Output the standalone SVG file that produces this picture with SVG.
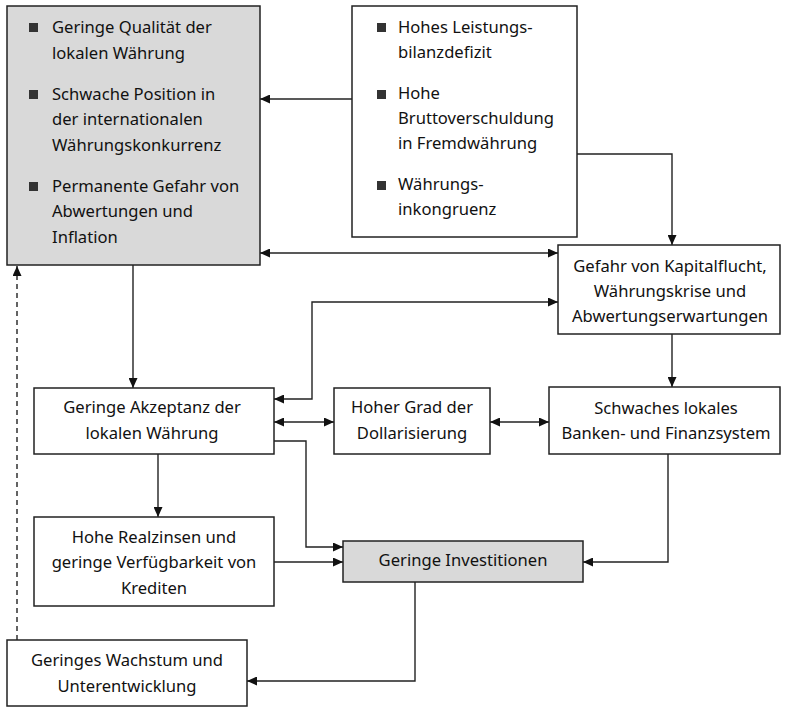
<svg xmlns="http://www.w3.org/2000/svg" width="786" height="707" viewBox="0 0 786 707">
<style>
.box{stroke:#222;stroke-width:1.5;fill:#fff}
.grey{fill:#d9d9d9}
text{font-family:"Noto Sans","Open Sans",sans-serif;font-size:16.6px;fill:#111}
.c{text-anchor:middle}
.bul{fill:#333}
.con{fill:none;stroke:#222;stroke-width:1.4}
.dash{stroke-dasharray:5,4}
</style>
<defs>
<marker id="ah" viewBox="0 0 10 9" refX="10" refY="4.5" markerWidth="10" markerHeight="9" markerUnits="userSpaceOnUse" orient="auto-start-reverse">
<path d="M0,0 L10,4.5 L0,9 z" fill="#111"/>
</marker>
</defs>
<rect width="786" height="707" fill="#fff"/>
<g id="connectors">
<path class="con" d="M352,99 H260" marker-end="url(#ah)"/>
<path class="con" d="M260,253 H558" marker-start="url(#ah)" marker-end="url(#ah)"/>
<path class="con" d="M577,154 H672 V245" marker-end="url(#ah)"/>
<path class="con" d="M133,265 V388" marker-end="url(#ah)"/>
<path class="con" d="M274,399 H312 V302 H558" marker-start="url(#ah)" marker-end="url(#ah)"/>
<path class="con" d="M274,422 H334" marker-start="url(#ah)" marker-end="url(#ah)"/>
<path class="con" d="M490,422 H549" marker-start="url(#ah)" marker-end="url(#ah)"/>
<path class="con" d="M672,334 V387" marker-end="url(#ah)"/>
<path class="con" d="M274,441 H306 V547 H343" marker-end="url(#ah)"/>
<path class="con" d="M158,454 V517" marker-end="url(#ah)"/>
<path class="con" d="M274,562 H343" marker-end="url(#ah)"/>
<path class="con" d="M668,454 V562 H583" marker-end="url(#ah)"/>
<path class="con" d="M415,582 V681 H247" marker-end="url(#ah)"/>
<path class="con dash" d="M17,640 V266" marker-end="url(#ah)"/>
</g>
<g id="nodeA">
<rect class="box grey" x="7" y="6" width="253" height="259"/>
<rect class="bul" x="29" y="23" width="9" height="9"/>
<text x="52" y="33">Geringe Qualität der</text>
<text x="52" y="59">lokalen Währung</text>
<rect class="bul" x="29" y="90" width="9" height="9"/>
<text x="52" y="100">Schwache Position in</text>
<text x="52" y="125">der internationalen</text>
<text x="52" y="151">Währungskonkurrenz</text>
<rect class="bul" x="29" y="182" width="9" height="9"/>
<text x="52" y="192">Permanente Gefahr von</text>
<text x="52" y="217">Abwertungen und</text>
<text x="52" y="243">Inflation</text>
</g>
<g id="nodeB">
<rect class="box" x="352" y="6" width="225" height="231"/>
<rect class="bul" x="377" y="23" width="9" height="9"/>
<text x="398" y="33">Hohes Leistungs-</text>
<text x="398" y="58">bilanzdefizit</text>
<rect class="bul" x="377" y="90" width="9" height="9"/>
<text x="398" y="99">Hohe</text>
<text x="398" y="124">Bruttoverschuldung</text>
<text x="398" y="149">in Fremdwährung</text>
<rect class="bul" x="377" y="181" width="9" height="9"/>
<text x="398" y="190">Währungs-</text>
<text x="398" y="215">inkongruenz</text>
</g>
<g id="nodeC">
<rect class="box" x="558" y="245" width="222" height="89"/>
<text class="c" x="670" y="272">Gefahr von Kapitalflucht,</text>
<text class="c" x="670" y="297">Währungskrise und</text>
<text class="c" x="670" y="322">Abwertungserwartungen</text>
</g>
<g id="nodeD">
<rect class="box" x="549" y="387" width="231" height="67"/>
<text class="c" x="666" y="414">Schwaches lokales</text>
<text class="c" x="666" y="439">Banken- und Finanzsystem</text>
</g>
<g id="nodeE">
<rect class="box" x="34" y="388" width="240" height="66"/>
<text class="c" x="152" y="413">Geringe Akzeptanz der</text>
<text class="c" x="152" y="439">lokalen Währung</text>
</g>
<g id="nodeF">
<rect class="box" x="334" y="388" width="156" height="66"/>
<text class="c" x="412" y="413">Hoher Grad der</text>
<text class="c" x="412" y="439">Dollarisierung</text>
</g>
<g id="nodeG">
<rect class="box" x="34" y="517" width="240" height="89"/>
<text class="c" x="154" y="543">Hohe Realzinsen und</text>
<text class="c" x="154" y="568">geringe Verfügbarkeit von</text>
<text class="c" x="154" y="594">Krediten</text>
</g>
<g id="nodeH">
<rect class="box grey" x="343" y="541" width="240" height="41"/>
<text class="c" x="463" y="566">Geringe Investitionen</text>
</g>
<g id="nodeI">
<rect class="box" x="7" y="640" width="240" height="66"/>
<text class="c" x="127" y="666">Geringes Wachstum und</text>
<text class="c" x="127" y="692">Unterentwicklung</text>
</g>
</svg>
